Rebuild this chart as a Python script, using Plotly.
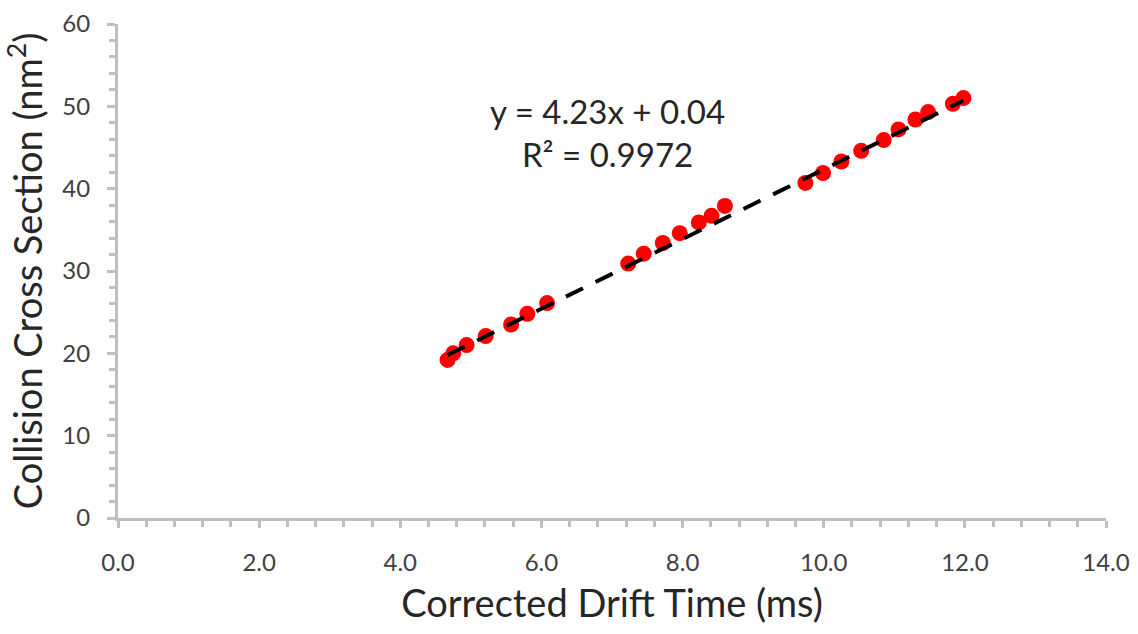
import plotly.graph_objects as go
import numpy as np

# Corrected drift time (ms) and collision cross section (nm^2)
drift_time = [4.67, 4.75, 4.94, 5.21, 5.57, 5.80, 6.08,
              7.23, 7.45, 7.72, 7.96, 8.23, 8.41, 8.60,
              9.74, 9.99, 10.25, 10.53, 10.85, 11.06, 11.30, 11.48, 11.83, 11.98]
ccs = [19.2, 20.0, 21.0, 22.1, 23.5, 24.8, 26.1,
       30.9, 32.1, 33.4, 34.6, 35.9, 36.7, 37.9,
       40.7, 41.9, 43.3, 44.6, 45.9, 47.2, 48.4, 49.3, 50.3, 51.0]

# Linear trendline coefficients
slope = 4.23
intercept = 0.04
r_squared = 0.9972

x_ticks = [0, 2, 4, 6, 8, 10, 12, 14]
y_ticks = [0, 10, 20, 30, 40, 50, 60]

fit_x = np.array([min(drift_time), max(drift_time)])
fit_y = slope * fit_x + intercept

fig = go.Figure()
fig.add_trace(go.Scatter(
    x=drift_time, y=ccs, mode="markers",
    marker=dict(color="#FF0000", size=16, line=dict(width=0)),
    showlegend=False, hoverinfo="x+y",
))
fig.add_trace(go.Scatter(
    x=fit_x, y=fit_y, mode="lines",
    line=dict(color="#000000", width=4, dash="19px,14px"),
    showlegend=False, hoverinfo="skip",
))

fig.add_annotation(
    x=6.94, y=46.8, xref="x", yref="y",
    text=f"y = {slope:.2f}x + {intercept:.2f}<br>R\u00b2 = {r_squared:.4f}",
    showarrow=False, align="center",
    font=dict(family="Lato, Open Sans, sans-serif", size=33, color="#262626"),
)

axis_line = "#BFBFBF"
tick_font = dict(family="Lato, Open Sans, sans-serif", size=24, color="#404040")
title_font = dict(family="Lato, Open Sans, sans-serif", size=38, color="#262626")

fig.update_layout(
    width=1138, height=634,
    margin=dict(l=118, r=32, t=24, b=116),
    plot_bgcolor="white", paper_bgcolor="white",
    xaxis=dict(
        range=[0, 14], tickvals=x_ticks,
        ticktext=[f"{v:.1f}" for v in x_ticks],
        showgrid=False, zeroline=False,
        showline=True, linecolor=axis_line, linewidth=3,
        ticks="outside", tickcolor=axis_line, ticklen=7, tickwidth=2.5,
        minor=dict(dtick=0.4, tick0=0, ticks="outside", ticklen=6,
                   tickcolor=axis_line, tickwidth=2.5, showgrid=False),
        tickfont=tick_font, ticklabelstandoff=14,
        title=dict(text="Corrected Drift Time (ms)", font=title_font, standoff=16),
        automargin=False,
    ),
    yaxis=dict(
        range=[0, 60], tickvals=y_ticks,
        showgrid=False, zeroline=False,
        showline=True, linecolor=axis_line, linewidth=3,
        ticks="outside", tickcolor=axis_line, ticklen=8, tickwidth=2.5,
        minor=dict(dtick=2, tick0=0, ticks="outside", ticklen=6,
                   tickcolor=axis_line, tickwidth=2.5, showgrid=False),
        tickfont=tick_font, ticklabelstandoff=12,
        title=dict(text="Collision Cross Section (nm<sup>2</sup>)", font=title_font, standoff=12),
        automargin=False,
    ),
)

fig.write_html("out.html")
